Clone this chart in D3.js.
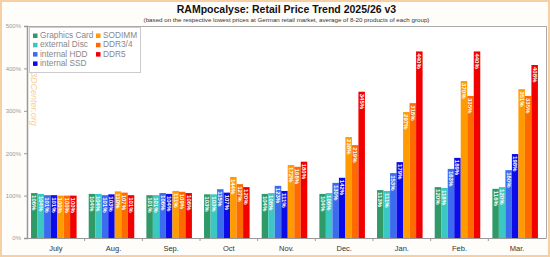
<!DOCTYPE html>
<html><head><meta charset="utf-8">
<script src="https://cdn.jsdelivr.net/npm/d3@7"></script>
<style>
html,body{margin:0;padding:0;background:#fff;}
svg{display:block;font-family:"Liberation Sans",Arial,sans-serif;}
</style></head>
<body>
<svg id="chart" width="550" height="257"></svg>
<script>
const months = ["July","Aug.","Sep.","Oct","Nov.","Dec.","Jan.","Feb.","Mar."];
const seriesNames = ["Graphics Card","external Disc","internal HDD","internal SSD","SODIMM","DDR3/4","DDR5"];
const seriesColors = ["#2f9a68","#3cc8c2","#3b6cf0","#0c0ce8","#ff9a00","#ff6a00","#f20000"];
const graphicsCard = [106,104,101,103,104,104,113,120,116];
const externalDisc = [104,104,101,103,106,106,111,118,120];
const internalHDD  = [101,101,106,115,123,130,153,163,160];
const internalSSD  = [101,103,104,107,111,142,179,189,198];
const sodimm       = [100,110,111,144,172,238,297,370,351];
const ddr34        = [100,107,109,127,168,219,318,335,335];
const ddr5         = [100,101,106,120,180,345,440,440,408];
const yTicks = [0,100,200,300,400,500];

const allSeries = [graphicsCard, externalDisc, internalHDD, internalSSD, sodimm, ddr34, ddr5];

const svg = d3.select("#chart");
const W = 550, H = 257;
const L = 27, R = 546, T = 26, B = 238;

// outer frame
svg.append("rect").attr("x",1).attr("y",1).attr("width",W-2).attr("height",H-2)
  .attr("fill","#fffdfa").attr("stroke","#f6cfa4").attr("stroke-width",2);
svg.append("rect").attr("x",L).attr("y",T).attr("width",R-L).attr("height",B-T).attr("fill","#fff");

// title
svg.append("text").attr("x",(L+R)/2).attr("y",13).attr("text-anchor","middle")
  .attr("font-size","10.5px").attr("font-weight","bold").attr("fill","#111")
  .text("RAMpocalyse: Retail Price Trend 2025/26 v3");
svg.append("text").attr("x",(L+R)/2).attr("y",22).attr("text-anchor","middle")
  .attr("font-size","6.2px").attr("fill","#333")
  .text("(based on the respective lowest prices at German retail market, average of 8-20 products of each group)");

const x0 = d3.scaleBand().domain(months).range([L,R]).padding(0);
const bw = x0.bandwidth();
const x1 = d3.scaleBand().domain(seriesNames).range([bw*0.07, bw*0.86]).padding(0);
const y = d3.scaleLinear().domain([0,500]).range([B,T]);

// frame lines
svg.append("line").attr("x1",L).attr("x2",R).attr("y1",T+0.5).attr("y2",T+0.5).attr("stroke","#aaa");
svg.append("line").attr("x1",R+0.5).attr("x2",R+0.5).attr("y1",T).attr("y2",B).attr("stroke","#aaa");

// y axis
const yAxis = svg.append("g").attr("transform",`translate(${L},0)`)
  .call(d3.axisLeft(y).tickValues(yTicks).tickSize(3).tickFormat(d=>d+"%"));
yAxis.select(".domain").attr("stroke","#999").attr("stroke-width",1.5);
yAxis.selectAll(".tick line").attr("stroke","#999");
yAxis.selectAll(".tick text").attr("font-size","6px").attr("fill","#999").attr("font-family","Liberation Sans, Arial, sans-serif");

// watermark
svg.append("text").attr("transform","translate(31,72) rotate(90)")
  .attr("font-size","9px").attr("font-style","italic").attr("fill","#f7cf96")
  .text("3DCenter.org");

// bars
const groups = svg.append("g").selectAll("g").data(months).join("g")
  .attr("transform",d=>`translate(${x0(d)},0)`);
groups.each(function(m,mi){
  const g = d3.select(this);
  const data = seriesNames.map((s,si)=>({s, si, v: allSeries[si][mi]}));
  g.selectAll("rect").data(data).join("rect")
    .attr("x",d=>x1(d.s)).attr("width",x1.bandwidth())
    .attr("y",d=>y(d.v)).attr("height",d=>B-y(d.v))
    .attr("fill",d=>seriesColors[d.si]);
  g.selectAll("text").data(data).join("text")
    .attr("transform",d=>`translate(${x1(d.s)+x1.bandwidth()/2-2.1},${y(d.v)+2}) rotate(90)`)
    .attr("font-size","6px").attr("font-weight","bold").attr("fill","#fff")
    .text(d=>d.v+"%");
});

// x axis
const xAxis = svg.append("g").attr("transform",`translate(0,${B})`)
  .call(d3.axisBottom(x0).tickSize(0).tickPadding(8));
xAxis.select(".domain").attr("stroke","#999");
xAxis.selectAll(".tick text").attr("font-size","7.5px").attr("fill","#333").attr("font-family","Liberation Sans, Arial, sans-serif");
svg.append("g").selectAll("line").data(months.slice(1)).join("line")
  .attr("x1",d=>x0(d)).attr("x2",d=>x0(d)).attr("y1",B).attr("y2",B+3).attr("stroke","#999");

// legend
const lg = svg.append("g");
lg.append("rect").attr("x",29.5).attr("y",27.5).attr("width",111).attr("height",45)
  .attr("fill","#fff").attr("stroke","#ccc");
seriesNames.forEach((s,i)=>{
  const col = i<4?0:1, row = i<4?i:i-4;
  const gx = col===0?33:96, gy = 38 + row*9.3;
  lg.append("rect").attr("x",gx).attr("y",gy-4.5).attr("width",4.5).attr("height",4.5).attr("fill",seriesColors[i]);
  lg.append("text").attr("x",gx+7).attr("y",gy).attr("font-size","8.3px").attr("fill","#888").text(s);
});
</script>
</body></html>
